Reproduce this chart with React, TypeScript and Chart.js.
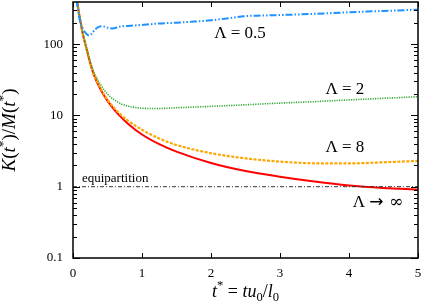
import React, { useEffect, useRef } from "react";
import { Chart, registerables } from "chart.js";

Chart.register(...registerables);

// ---- data ----
const T_MAIN = [0.06, 0.1, 0.14, 0.2, 0.25, 0.3, 0.4, 0.5, 0.6, 0.7, 0.8, 1.0, 1.25, 1.5, 2, 2.5, 3, 3.5, 4, 4.5, 5];
const RED_INF = [390, 230, 142, 83, 54, 37.5, 23, 16, 12.0, 9.4, 7.6, 5.4, 3.95, 3.1, 2.15, 1.66, 1.38, 1.18, 1.04, 0.96, 0.91];
const ORANGE_8 = [390, 230, 142, 84, 55, 38.5, 24, 16.6, 12.6, 10.1, 8.4, 6.3, 4.75, 3.85, 2.95, 2.5, 2.25, 2.13, 2.12, 2.2, 2.3];
const GREEN_2 = [390, 232, 145, 86, 57, 41, 27, 20, 16.5, 14.5, 13.5, 12.6, 12.5, 12.8, 13.4, 14.1, 14.9, 15.6, 16.5, 17.4, 18.3];
const T_BLUE = [0.05, 0.1, 0.15, 0.2, 0.23, 0.27, 0.32, 0.38, 0.43, 0.5, 0.57, 0.68, 0.8, 1.0, 1.25, 1.5, 1.75, 2.0, 2.25, 2.5, 2.75, 3.0, 3.5, 4.0, 4.5, 5.0];
const BLUE_05 = [420, 215, 160, 138, 133, 140, 160, 176, 178, 170, 166, 176, 180, 186, 195, 200, 207, 216, 230, 247, 252, 256, 266, 280, 292, 305];
const T_EQUI = [0, 5];
const EQUI = [1, 1];

const X_TICKS = [0, 1, 2, 3, 4, 5];
const Y_TICKS = [0.1, 1, 10, 100];

const LABEL_TEXT = ["Λ = 0.5", "Λ = 2", "Λ = 8"];
const LABEL_T = [2.42, 3.94, 3.94];
const LABEL_V = [142, 23.3, 3.59];

const SERIF = "'Liberation Serif', 'DejaVu Serif', serif";

type Part = { t: string; it?: boolean; sup?: boolean; sub?: boolean; fam?: string; dy?: number };

function partFont(p: Part, size: number) {
  const s = p.sup || p.sub ? size * 0.7 : size;
  return `${p.it ? "italic " : ""}${s}px ${p.fam || SERIF}`;
}

function richWidth(ctx: CanvasRenderingContext2D, parts: Part[], size: number) {
  let w = 0;
  for (const p of parts) {
    ctx.font = partFont(p, size);
    w += ctx.measureText(p.t).width;
  }
  return w;
}

function drawRich(ctx: CanvasRenderingContext2D, parts: Part[], size: number, x: number, y: number) {
  let cx = x - richWidth(ctx, parts, size) / 2;
  ctx.textBaseline = "alphabetic";
  ctx.textAlign = "left";
  for (const p of parts) {
    ctx.font = partFont(p, size);
    const dy = (p.sup ? -size * 0.42 : p.sub ? size * 0.22 : 0) + (p.dy || 0);
    ctx.fillText(p.t, cx, y + dy);
    cx += ctx.measureText(p.t).width;
  }
}

const Y_TITLE: Part[] = [
  { t: "K", it: true }, { t: "(" }, { t: "t", it: true }, { t: "*", sup: true }, { t: ")/" },
  { t: "M", it: true }, { t: "(" }, { t: "t", it: true }, { t: "*", sup: true }, { t: ")" },
];
const X_TITLE: Part[] = [
  { t: "t", it: true }, { t: "*", sup: true }, { t: " = " }, { t: "tu", it: true }, { t: "0", sub: true },
  { t: "/" }, { t: "l", it: true }, { t: "0", sub: true },
];
const INF_LABEL: Part[] = [
  { t: "Λ " }, { t: "→", fam: "'DejaVu Sans'", dy: 0 }, { t: " ∞", fam: "'DejaVu Serif'" },
];

const decorPlugin = {
  id: "decor",
  afterDatasetsDraw(chart: any) {
    const { ctx, scales } = chart;
    const x = scales.x, y = scales.y;
    ctx.save();
    ctx.fillStyle = "#000";
    ctx.textAlign = "center";
    ctx.textBaseline = "middle";
    ctx.font = `17px ${SERIF}`;
    LABEL_TEXT.forEach((s, i) => {
      ctx.fillText(s, x.getPixelForValue(LABEL_T[i]), y.getPixelForValue(LABEL_V[i]));
    });
    drawRich(ctx, INF_LABEL, 17, x.getPixelForValue(4.42), y.getPixelForValue(0.64) + 6);
    ctx.font = `13px ${SERIF}`;
    ctx.textAlign = "left";
    ctx.textBaseline = "middle";
    ctx.fillText("equipartition", x.getPixelForValue(0.13), y.getPixelForValue(1.29));
    ctx.restore();
  },
  afterDraw(chart: any) {
    const { ctx, chartArea: a, scales } = chart;
    const x = scales.x, y = scales.y;
    ctx.save();
    ctx.strokeStyle = "#000";
    ctx.lineWidth = 1;
    const seg = (x1: number, y1: number, x2: number, y2: number) => {
      ctx.beginPath();
      ctx.moveTo(x1, y1);
      ctx.lineTo(x2, y2);
      ctx.stroke();
    };
    for (const v of X_TICKS) {
      const px = Math.round(x.getPixelForValue(v)) + 0.5;
      seg(px, a.bottom, px, a.bottom - 5);
      seg(px, a.top, px, a.top + 5);
    }
    for (let d = -1; d <= 2; d++) {
      for (let m = 1; m <= 9; m++) {
        const v = m * Math.pow(10, d);
        if (v > y.max || v < y.min) continue;
        const py = Math.round(y.getPixelForValue(v)) + 0.5;
        const len = m === 1 ? 7 : 4;
        seg(a.left, py, a.left + len, py);
        seg(a.right, py, a.right - len, py);
      }
    }
    ctx.lineWidth = 1.5;
    ctx.strokeRect(a.left, a.top, a.right - a.left, a.bottom - a.top);

    ctx.fillStyle = "#000";
    drawRich(ctx, X_TITLE, 18, (a.left + a.right) / 2, 297);
    ctx.save();
    ctx.translate(15, (a.top + a.bottom) / 2);
    ctx.rotate(-Math.PI / 2);
    drawRich(ctx, Y_TITLE, 19, 0, 0);
    ctx.restore();
    ctx.restore();
  },
};

function pts(xs: number[], ys: number[]) {
  return xs.map((v, i) => ({ x: v, y: ys[i] }));
}

function zeroPad(s: any) {
  s.paddingTop = 0;
  s.paddingBottom = 0;
  s.paddingLeft = 0;
  s.paddingRight = 0;
}

export default function App() {
  const ref = useRef<HTMLCanvasElement | null>(null);
  useEffect(() => {
    document.body.style.margin = "0";
    if (!ref.current) return;
    const base = { pointRadius: 0, fill: false, cubicInterpolationMode: "monotone" as const };
    const chart = new Chart(ref.current, {
      type: "line",
      data: {
        datasets: [
          { ...base, label: "equipartition", data: pts(T_EQUI, EQUI), borderColor: "#333", borderWidth: 1, borderDash: [4, 2, 1, 2] },
          { ...base, label: "Λ = 0.5", data: pts(T_BLUE, BLUE_05), borderColor: "#1e90ff", borderWidth: 2, borderDash: [7, 2, 1.5, 2, 1.5, 2] },
          { ...base, label: "Λ = 2", data: pts(T_MAIN, GREEN_2), borderColor: "#30a830", borderWidth: 1.6, borderDash: [1.2, 1.2] },
          { ...base, label: "Λ = 8", data: pts(T_MAIN, ORANGE_8), borderColor: "#ffa500", borderWidth: 2.2, borderDash: [3, 1.5] },
          { ...base, label: "Λ → ∞", data: pts(T_MAIN, RED_INF), borderColor: "#ff0000", borderWidth: 2 },
        ],
      },
      options: {
        responsive: false,
        animation: false,
        layout: { padding: { top: 2, right: 6, left: 0, bottom: 0 } },
        plugins: { legend: { display: false }, tooltip: { enabled: false } },
        scales: {
          x: {
            type: "linear",
            min: 0,
            max: 5,
            grid: { display: false, drawTicks: false },
            border: { display: false },
            afterBuildTicks: (s: any) => { s.ticks = X_TICKS.map((v) => ({ value: v })); },
            afterFit: (s: any) => { s.height = 47; zeroPad(s); },
            ticks: { padding: 8, color: "#000", font: { family: SERIF, size: 13 }, maxRotation: 0 },
          },
          y: {
            type: "logarithmic",
            min: 0.1,
            max: 390,
            grid: { display: false, drawTicks: false },
            border: { display: false },
            afterBuildTicks: (s: any) => { s.ticks = Y_TICKS.map((v) => ({ value: v })); },
            afterFit: (s: any) => { s.width = 73; zeroPad(s); },
            ticks: {
              padding: 10,
              color: "#000",
              font: { family: SERIF, size: 13 },
              callback: (v: any) => String(v),
            },
          },
        },
      },
      plugins: [decorPlugin],
    });
    return () => chart.destroy();
  }, []);
  return (
    <div style={{ width: 424, height: 305, background: "#fff" }}>
      <canvas ref={ref} width={424} height={305} />
    </div>
  );
}
